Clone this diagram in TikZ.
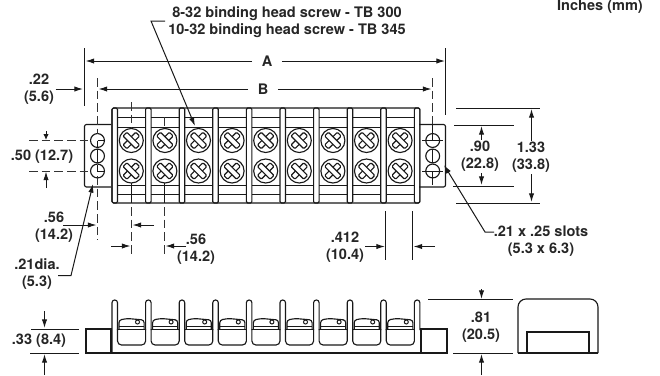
\documentclass[tikz,border=0pt]{standalone}
\usepackage{fontspec}
\setmainfont{TeX Gyre Heros}
\usetikzlibrary{arrows.meta,positioning}

\tikzset{
  part/.style={line width=0.85pt, draw=black!90},
  thinline/.style={line width=0.75pt, draw=black!90},
  centerline/.style={line width=0.75pt, draw=black!80, dash pattern=on 6.5pt off 3pt},
  dimline/.style={line width=0.75pt, draw=black!90, -{Latex[length=6.5pt,width=4pt]}},
  dimtext/.style={font=\fontsize{10.9}{12.7}\selectfont\bfseries, align=center, inner sep=1pt, text=black!85},
  dimgap/.style={dimtext, inner sep=7pt},
  xslot/.style={line width=0.85pt, draw=black!90, fill=white, rounded corners=0.8pt}
}

\begin{document}
\begin{tikzpicture}[x=0.75pt, y=-0.75pt]
      \useasboundingbox (0,0) rectangle (660,375);

      % labels
      \node (units)  [dimtext] at (600,7)   {Inches (mm)};
      \node (screws) [dimtext] at (287,22.5) {8-32 binding head screw - TB 300\\10-32 binding head screw - TB 345};
      \node (lblA)   [dimgap]  at (267,61)  {A};
      \node (lblB)   [dimgap]  at (263,89)  {B};
      \node (d22)    [dimtext] at (39,89)   {.22\\(5.6)};
      \node (d50)    [dimtext] at (42,157)  {.50 (12.7)};
      \node (d56a)   [dimtext] at (54,227)  {.56\\(14.2)};
      \node (d56b)   [dimtext] at (196,249) {.56\\(14.2)};
      \node (d21)    [dimtext] at (37,274)  {.21dia.\\(5.3)};
      \node (d412)   [dimtext] at (345,247.5) {.412\\(10.4)};
      \node (slots)  [dimtext] at (541,241) {.21 x .25 slots\\(5.3 x 6.3)};
      \node (d90)    [dimtext] at (480,156.5) {.90\\(22.8)};
      \node (d133)   [dimtext] at (531,157.5) {1.33\\(33.8)};
      \node (d33)    [dimtext] at (39,341)  {.33 (8.4)};
      \node (d81)    [dimtext] at (481,327.5) {.81\\(20.5)};

      % top view: end tabs and body
      \draw[part, rounded corners=1.5pt] (111,124.5) -- (84.5,124.5) -- (84.5,187) -- (111,187);
      \draw[part, rounded corners=1.5pt] (419,124.5) -- (445.5,124.5) -- (445.5,187) -- (419,187);
      \draw[part, rounded corners=1.5pt] (112,108) rectangle (419.9,203);
      \foreach \i in {0,...,9} {
        \pgfmathsetmacro{\xb}{112+33.6*\i}
        \draw[part, rounded corners=1pt] (\xb,108) rectangle (\xb+5.5,203);
      }
      \foreach \i in {0,...,8} {
        \pgfmathsetmacro{\xb}{117.5+33.6*\i}
        \pgfmathsetmacro{\xe}{145.6+33.6*\i}
        \pgfmathsetmacro{\xc}{131.3+33.6*\i}
        \foreach \yl in {117,127,185,194}
          \draw[thinline] (\xb,\yl) -- (\xe,\yl);
        \foreach \yc in {140.5,171} {
          \draw[part] (\xc,\yc) circle[radius=9pt];
          \draw[xslot, rotate around={45:(\xc,\yc)}] (\xc-9,\yc-2.7) rectangle (\xc+9,\yc+2.7);
          \draw[xslot, rotate around={-45:(\xc,\yc)}] (\xc-9,\yc-2.7) rectangle (\xc+9,\yc+2.7);
        }
      }

      % mounting holes
      \foreach \xh in {97.5,432.7} {
        \draw[part] (\xh,140.5) circle[radius=5.2pt];
        \draw[part] (\xh,156) circle[radius=5.2pt];
        \draw[part] (\xh,171) circle[radius=5.2pt];
        \draw[thinline] (\xh,149) -- (\xh,163);
      }
      \draw[thinline] (97.5,140.5) -- (104.5,140.5) (97.5,140.5) -- (97.5,146.5);
      \draw[thinline] (97.5,165) -- (97.5,171) -- (104.5,171);
      \draw[thinline] (422,140.5) -- (443,140.5) (432.7,124.5) -- (432.7,140.5);
      \draw[thinline] (422,171) -- (443,171) (432.7,171) -- (432.7,185);

      % center lines
      \draw[centerline] (97.5,78) -- (97.5,134);
      \draw[centerline] (432.7,78) -- (432.7,124);
      \draw[centerline] (29,140.5) -- (90,140.5);
      \draw[centerline] (29,171) -- (90,171);
      \draw[centerline] (97.5,176) -- (97.5,240);
      \draw[centerline] (131.3,102) -- (131.3,128);
      \draw[centerline] (164.9,117) -- (164.9,128);
      \draw[thinline] (131.3,183) -- (131.3,203);
      \draw[thinline] (164.9,183) -- (164.9,203);
      \draw[centerline] (131.3,207) -- (131.3,255);
      \draw[centerline] (164.9,207) -- (164.9,255);

      % dimensions across the top
      \coordinate (aL) at (85.5,61);
      \coordinate (aR) at (445,61);
      \coordinate (bL) at (98.5,89);
      \coordinate (bR) at (431.5,89);
      \draw[thinline] (84.5,48) -- (84.5,106);
      \draw[thinline] (445.5,48) -- (445.5,115);
      \draw[dimline] (lblA) -- (aL);
      \draw[dimline] (lblA) -- (aR);
      \draw[dimline] (lblB) -- (bL);
      \draw[dimline] (lblB) -- (bR);
      \coordinate (t22) at (83,89);
      \draw[dimline] (d22) -- (t22);
      \coordinate (sKnee) at (151,21);
      \coordinate (sTip) at (195,126);
      \coordinate (sStart) at (165,21);
      \draw[dimline] (sStart) -- (sKnee) -- (sTip);

      % dimensions on the left
      \coordinate (a50t) at (46,131);
      \coordinate (t50t) at (46,140);
      \draw[dimline, -{Latex[length=4.5pt,width=4pt]}] (a50t) -- (t50t);
      \coordinate (a50b) at (46,188);
      \coordinate (t50b) at (46,171.5);
      \draw[dimline] (a50b) -- (t50b);
      \coordinate (t56a) at (96.5,225);
      \coordinate (s56a) at (63,225);
      \draw[dimline] (s56a) -- (t56a);
      \coordinate (s21) at (58,275.5);
      \coordinate (k21) at (71,275.5);
      \coordinate (t21) at (93,184);
      \draw[dimline] (s21) -- (k21) -- (t21);

      % dimensions below the body
      \coordinate (s56c) at (154,225);
      \coordinate (t56c) at (132.5,225);
      \draw[dimline] (s56c) -- (t56c);
      \coordinate (s56d) at (111,246);
      \coordinate (t56d) at (130.5,246);
      \draw[dimline] (s56d) -- (t56d);
      \coordinate (s56e) at (186,246);
      \coordinate (t56e) at (165.5,246);
      \draw[dimline] (s56e) -- (t56e);
      \draw[thinline] (385.7,211) -- (385.7,260);
      \draw[thinline] (412.7,211) -- (412.7,260);
      \coordinate (s412a) at (365,246.5);
      \coordinate (t412a) at (385,246.5);
      \draw[dimline] (s412a) -- (t412a);
      \coordinate (s412b) at (435,246.5);
      \coordinate (t412b) at (413.5,246.5);
      \draw[dimline] (s412b) -- (t412b);
      \coordinate (sSlot) at (494,232);
      \coordinate (kSlot) at (485,232);
      \coordinate (tSlot) at (444,165);
      \draw[dimline] (sSlot) -- (kSlot) -- (tSlot);

      % dimensions on the right
      \draw[thinline] (456,108) -- (540,108);
      \draw[thinline] (456,203) -- (540,203);
      \draw[thinline] (454,125) -- (514,125);
      \draw[thinline] (453,186) -- (514,186);
      \coordinate (t90t) at (481.5,126);
      \coordinate (t90b) at (481.5,185);
      \draw[dimline] (d90.north -| t90t) -- (t90t);
      \draw[dimline] (d90.south -| t90b) -- (t90b);
      \coordinate (t133t) at (531.5,109);
      \coordinate (t133b) at (531.5,202);
      \draw[dimline] (d133.north -| t133t) -- (t133t);
      \draw[dimline] (d133.south -| t133b) -- (t133b);

      % side view
      \draw[part] (86,329) rectangle (111,353);
      \draw[part] (421,329) rectangle (447,353);
      \draw[part] (111,353) -- (421,353);
      \draw[part, rounded corners=2pt] (112,353) -- (112,300) -- (117.5,300) -- (117.5,330);
      \foreach \i in {1,...,9} {
        \pgfmathsetmacro{\xb}{112+33.6*\i}
        \draw[part, rounded corners=2pt] (\xb,330) -- (\xb,300) -- (\xb+5.5,300) -- (\xb+5.5,330);
      }
      \foreach \i in {0,...,8} {
        \pgfmathsetmacro{\xb}{117.5+33.6*\i}
        \pgfmathsetmacro{\xe}{145.6+33.6*\i}
        \draw[part, rounded corners=3pt] (\xb,329) -- (\xb,345) -- (\xe,345) -- (\xe,329);
        \draw[line width=1.3pt, draw=black!90] (\xb,329.5) -- (\xe,329.5);
        \draw[part, rounded corners=2pt] (\xb+1.5,329) -- (\xb+1.5,320) -- (\xb+10,318.5) -- (\xe-1.5,320) -- (\xe-1.5,329);
        \draw[thinline] (\xb+1.5,326) -- (\xe-1.5,326);
        \draw[thinline] (\xb+20,322) circle[radius=1.5pt];
      }

      % end view
      \draw[part, rounded corners=6pt] (518,353) -- (518,299) -- (598,299) -- (598,353);
      \draw[part] (518,353) -- (598,353);
      \draw[part] (527,353) -- (527,332) -- (589,332) -- (589,353);

      % heights
      \draw[thinline] (31,329) -- (79,329);
      \draw[thinline] (30,353) -- (79,353);
      \coordinate (s33t) at (44.5,311);
      \coordinate (t33t) at (44.5,328);
      \coordinate (s33b) at (44.5,375);
      \coordinate (t33b) at (44.5,354);
      \draw[dimline] (s33t) -- (t33t);
      \draw[dimline] (s33b) -- (t33b);
      \draw[thinline] (428,299.5) -- (513,299.5);
      \draw[thinline] (453,353) -- (513,353);
      \coordinate (s81t) at (481.5,289);
      \coordinate (t81t) at (481.5,299);
      \coordinate (s81b) at (481.5,375);
      \coordinate (t81b) at (481.5,354);
      \draw[dimline] (s81t) -- (t81t);
      \draw[dimline] (s81b) -- (t81b);
\end{tikzpicture}
\end{document}
